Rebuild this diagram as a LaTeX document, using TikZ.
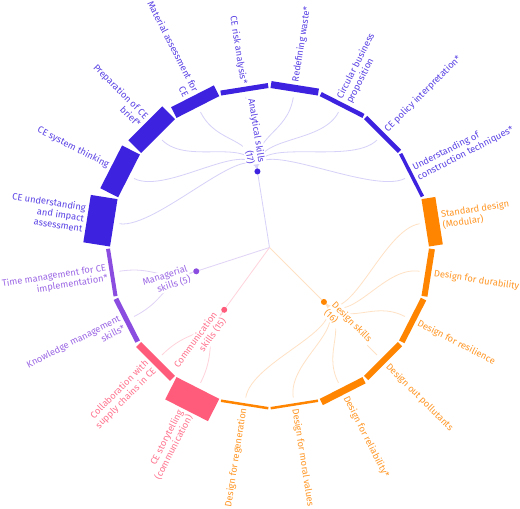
\documentclass[tikz,border=0pt]{standalone}
\usepackage{fontspec}
\setmainfont{Fira Sans}
\usetikzlibrary{calc}
\definecolor{cA}{HTML}{3D22E0}
\definecolor{cD}{HTML}{FF8500}
\definecolor{cC}{HTML}{FF5C7C}
\definecolor{cM}{HTML}{8B4DE0}
\definecolor{lA}{HTML}{D6D1F8}
\definecolor{lD}{HTML}{FFE2C6}
\definecolor{lC}{HTML}{FFD3DC}
\definecolor{lM}{HTML}{E0D3F6}
\colorlet{tA}{cA!85!white}
\colorlet{tD}{cD!85!white}
\colorlet{tC}{cC!85!white}
\colorlet{tM}{cM!85!white}
\tikzset{
  lab/.style={font=\fontsize{9.3}{10.8}\selectfont, inner sep=0pt},
  glab/.style={lab, fill=white, inner sep=0.8pt},
  gdot/.style={circle, inner sep=0pt, minimum size=6pt},
  lk/.style={line width=0.8pt}
}
\begin{document}
\begin{tikzpicture}[x=1pt,y=1pt]
\useasboundingbox (-269.5,-261.5) rectangle (250.5,247.5);
\fill[white] (-269.5,-261.5) rectangle (250.5,247.5);
\coordinate (root) at (0,0);
\coordinate (pa) at (99:77);
\coordinate (pd) at (-45:77);
\coordinate (pc) at (-126:77);
\coordinate (pm) at (-162:77);
% root links
\draw[lk, lA] (root) -- (pa);
\draw[lk, lD] (root) -- (pd);
\draw[lk, lC] (root) -- (pc);
\draw[lk, lM] (root) -- (pm);
% leaf links
\foreach \i/\g/\ga/\lc in {1/pa/99/lA,2/pa/99/lA,3/pa/99/lA,4/pa/99/lA,5/pa/99/lA,6/pa/99/lA,7/pa/99/lA,8/pa/99/lA,9/pa/99/lA,
  10/pd/-45/lD,11/pd/-45/lD,12/pd/-45/lD,13/pd/-45/lD,14/pd/-45/lD,15/pd/-45/lD,16/pd/-45/lD,
  17/pc/-126/lC,18/pc/-126/lC,19/pm/-162/lM,20/pm/-162/lM}{
  \pgfmathsetmacro{\m}{189-18*\i}
  \coordinate (e\i) at (\m:152);
  \draw[lk, \lc] (\g) .. controls (\ga:114.5) and (\m:114.5) .. (e\i);
}
% group labels
\node[glab, text=tA, rotate=-81, anchor=east, align=right] (la) at (99:84) {Analytical skills\\(17)};
\node[glab, text=tD, rotate=-45, anchor=west, align=left] (ld) at (-45:84) {Design skills\\(16)};
\node[glab, text=tC, rotate=54, anchor=east, align=right] (lc) at (-126:84) {Communication\\skills (15)};
\node[glab, text=tM, rotate=18, anchor=east, align=right] (lm) at (-162:84) {Managerial\\skills (5)};
% group dots
\node[gdot, fill=cA] (ga) at (pa) {};
\node[gdot, fill=cD] (gd) at (pd) {};
\node[gdot, fill=cC] (gc) at (pc) {};
\node[gdot, fill=cM] (gm) at (pm) {};
% bars
\foreach \i/\t/\c in {1/27/cA,2/20/cA,3/18/cA,4/12/cA,5/5/cA,6/7/cA,7/4.5/cA,8/4.5/cA,9/3.5/cA,
  10/14/cD,11/6/cD,12/6/cD,13/6/cD,14/7/cD,15/2.5/cD,16/2.5/cD,
  17/25/cC,18/7/cC,19/5/cM,20/4/cM}{
  \pgfmathsetmacro{\aa}{180-18*(\i-1)-0.35}
  \pgfmathsetmacro{\ab}{180-18*\i+0.35}
  \pgfmathsetmacro{\m}{189-18*\i}
  \fill[\c] (\aa:159.5) -- (\ab:159.5) -- ($(\ab:159.5)+(\m:\t)$) -- ($(\aa:159.5)+(\m:\t)$) -- cycle;
}
% leaf labels
\node[lab, text=tA, rotate=-9, anchor=east, align=right] (l1) at (171:187.5) {CE understanding\\and impact\\assessment};
\node[lab, text=tA, rotate=-27, anchor=east, align=right] (l2) at (153:180.5) {CE system thinking};
\node[lab, text=tA, rotate=-45, anchor=east, align=right] (l3) at (135:178.5) {Preparation of CE\\brief*};
\node[lab, text=tA, rotate=-63, anchor=east, align=right] (l4) at (117:172.5) {Material assessment for\\CE};
\node[lab, text=tA, rotate=-81, anchor=east, align=right] (l5) at (99:165.5) {CE risk analysis*};
\node[lab, text=tA, rotate=81, anchor=west, align=left] (l6) at (81:167.5) {Redefining waste*};
\node[lab, text=tA, rotate=63, anchor=west, align=left] (l7) at (63:165) {Circular business\\proposition};
\node[lab, text=tA, rotate=45, anchor=west, align=left] (l8) at (45:165) {CE policy interpretation*};
\node[lab, text=tA, rotate=27, anchor=west, align=left] (l9) at (27:164) {Understanding of\\construction techniques*};
\node[lab, text=tD, rotate=9, anchor=west, align=left] (l10) at (9:174.5) {Standard design\\(Modular)};
\node[lab, text=tD, rotate=-9, anchor=west, align=left] (l11) at (-9:166.5) {Design for durability};
\node[lab, text=tD, rotate=-27, anchor=west, align=left] (l12) at (-27:166.5) {Design for resilience};
\node[lab, text=tD, rotate=-45, anchor=west, align=left] (l13) at (-45:166.5) {Design out pollutants};
\node[lab, text=tD, rotate=-63, anchor=west, align=left] (l14) at (-63:167.5) {Design for reliability*};
\node[lab, text=tD, rotate=-81, anchor=west, align=left] (l15) at (-81:163) {Design for moral values};
\node[lab, text=tD, rotate=81, anchor=east, align=right] (l16) at (-99:163) {Design for regeneration};
\node[lab, text=tC, rotate=63, anchor=east, align=right] (l17) at (-117:185.5) {CE storytelling\\(communication)};
\node[lab, text=tC, rotate=45, anchor=east, align=right] (l18) at (-135:167.5) {Collaboration with\\supply chains in CE};
\node[lab, text=tM, rotate=27, anchor=east, align=right] (l19) at (-153:165.5) {Knowledge management\\skills*};
\node[lab, text=tM, rotate=9, anchor=east, align=right] (l20) at (-171:164.5) {Time management for CE\\implementation*};
\end{tikzpicture}
\end{document}
